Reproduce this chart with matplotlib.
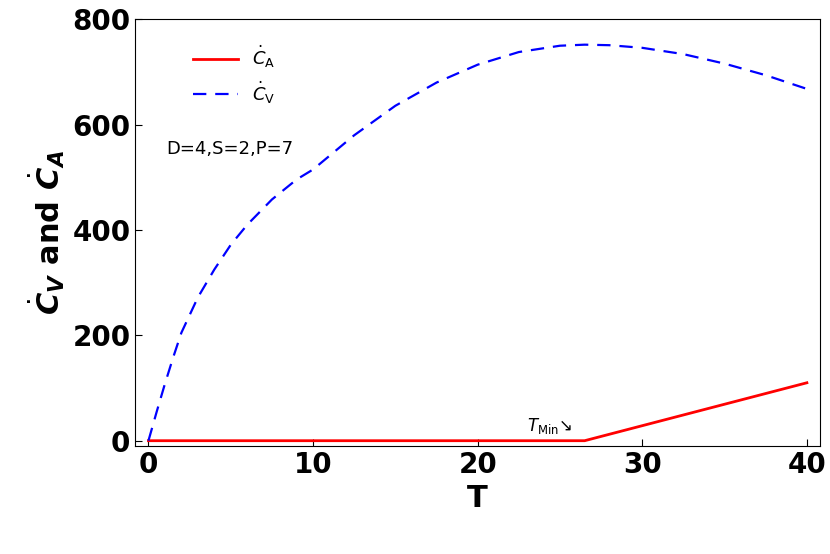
import matplotlib
matplotlib.use("Agg")
import matplotlib.pyplot as plt

T_v = [0, 0.5, 1, 1.5, 2, 3, 4, 5, 6, 7.5, 9, 10, 12.5, 15, 17.5, 20, 22.5, 25, 26.5, 28, 30, 32.5, 35, 37.5, 40]
C_v = [0, 55, 108, 158, 205, 272, 325, 372, 410, 458, 496, 515, 580, 636, 680, 714, 738, 750, 752, 751, 746, 734, 716, 694, 668]
T_a = [0, 26.5, 40]
C_a = [0, 0, 110]

fig = plt.figure(figsize=(8.3, 5.54), dpi=100)
ax = fig.add_axes([0.163, 0.195, 0.825, 0.77])
ax.plot(T_a, C_a, color="red", lw=2, label=r"$\dot{C}_{\mathrm{A}}$")
ax.plot(T_v, C_v, color="blue", lw=1.6, ls=(0, (6, 4)), label=r"$\dot{C}_{\mathrm{V}}$")
ax.set_xlim(-0.8, 40.8)
ax.set_ylim(-10, 800)
ax.set_xticks([0, 10, 20, 30, 40])
ax.set_yticks([0, 200, 400, 600, 800])
ax.tick_params(labelsize=20, direction="in", length=5)
for l in ax.get_xticklabels() + ax.get_yticklabels():
    l.set_fontweight("bold")
ax.set_xlabel("T", fontsize=22, fontweight="bold")
ax.set_ylabel(r"$\dot{\boldsymbol{C}}_{\boldsymbol{V}}$ and $\dot{\boldsymbol{C}}_{\boldsymbol{A}}$", fontsize=22, fontweight="bold")
ax.legend(loc="upper left", bbox_to_anchor=(0.06, 0.98), frameon=False, fontsize=13, handlelength=2.5)
ax.text(0.045, 0.685, "D=4,S=2,P=7", transform=ax.transAxes, fontsize=13)
ax.text(23, 18, r"$T_{\mathrm{Min}}$↘", fontsize=12)
fig.savefig("out.png")
